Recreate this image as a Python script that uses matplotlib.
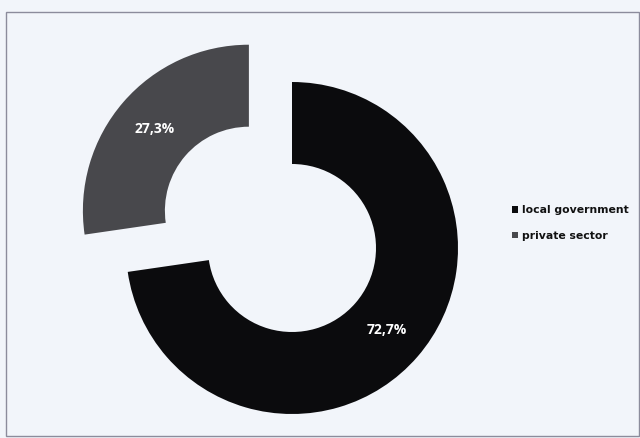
import matplotlib.pyplot as plt
from matplotlib.patches import Rectangle

# data
labels = ["local government", "private sector"]
shares = [72.7, 27.3]
colors = ["#0b0b0d", "#48484c"]
explode = [0, 57]  # pixel offset of the detached slice

BG = "#f2f5fa"

fig = plt.figure(figsize=(6.4, 4.38), dpi=100, facecolor=BG)
ax = fig.add_axes([0, 0, 1, 1])
ax.set_facecolor(BG)

wedges, texts, autotexts = ax.pie(
    shares,
    colors=colors,
    explode=explode,
    center=(292, 190),
    radius=166,
    startangle=90,
    counterclock=False,
    autopct=lambda p: f"{p:.1f}%".replace(".", ","),
    pctdistance=0.753,
    wedgeprops=dict(width=82, linewidth=0),
    textprops=dict(color="white", fontsize=10, fontweight="bold", family="Open Sans"),
)

ax.set_xlim(0, 640)
ax.set_ylim(0, 438)
ax.set_aspect("equal")
ax.axis("off")

# chart frame
ax.add_patch(Rectangle((6, 2), 633, 424, fill=False, edgecolor="#8c8c9c", linewidth=1))

leg = ax.legend(
    wedges, labels,
    loc="center left",
    bbox_to_anchor=(502 / 640, 1 - 223 / 438),
    frameon=False,
    handlelength=0.6,
    handleheight=0.6,
    handletextpad=0.35,
    labelspacing=1.45,
    prop=dict(size=7.8, weight="bold", family="DejaVu Sans"),
)
for t in leg.get_texts():
    t.set_color("#111111")

fig.savefig("out.png", dpi=100, facecolor=BG)
